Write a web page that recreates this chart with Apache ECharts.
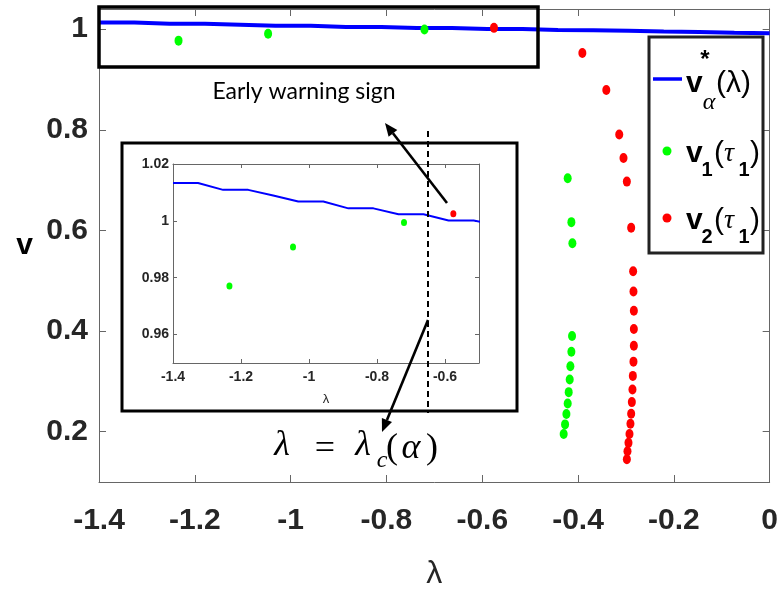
<!DOCTYPE html>
<html><head><meta charset="utf-8">
<script src="https://cdn.jsdelivr.net/npm/echarts@6/dist/echarts.min.js"></script>
<style>html,body{margin:0;padding:0;background:#fff}#c{width:781px;height:595px}</style>
</head><body><div id="c"></div>
<script>
// ---- data ----
const lineLambda = [-1.4, -1.3263, -1.2526, -1.1789, -1.1053, -1.0316, -0.9579, -0.8842, -0.8105, -0.7368, -0.6632, -0.5895, -0.5158, -0.4421, -0.3684, -0.2947, -0.2211, -0.1474, -0.0737, 0];
const vStar = [1.0133, 1.0133, 1.0109, 1.0109, 1.0089, 1.0068, 1.0068, 1.0044, 1.0044, 1.0023, 1.0023, 1.0001, 1.0001, 0.9985, 0.998, 0.997, 0.9955, 0.9945, 0.993, 0.992];
const v1Lambda = [-1.234, -1.047, -0.7206, -0.4216, -0.4139, -0.4118, -0.4125, -0.4139, -0.416, -0.4174, -0.4195, -0.4216, -0.4243, -0.4271, -0.43];
const v1Val = [0.9771, 0.9908, 0.9994, 0.7036, 0.6164, 0.5743, 0.3901, 0.359, 0.3301, 0.3036, 0.2786, 0.256, 0.235, 0.2145, 0.1954];
const v2Lambda = [-0.5755, -0.391, -0.341, -0.314, -0.3051, -0.2981, -0.2891, -0.285, -0.2843, -0.2835, -0.2835, -0.2835, -0.2843, -0.2856, -0.2864, -0.2877, -0.2891, -0.2906, -0.2926, -0.2947, -0.2968, -0.2981];
const v2Val = [1.0025, 0.9525, 0.879, 0.7907, 0.744, 0.697, 0.6053, 0.5188, 0.4786, 0.4402, 0.404, 0.3709, 0.3392, 0.3109, 0.2838, 0.2588, 0.2356, 0.2158, 0.1954, 0.1778, 0.161, 0.1451];
const mainYTicks = [0.2, 0.4, 0.6, 0.8, 1];
const insetXTicks = [-1.4, -1.2, -1, -0.8, -0.6];
const insetYTicks = [0.96, 0.98, 1, 1.02];

const pairs = (xs, ys) => xs.map((x, i) => [x, ys[i]]);
const tickFont = "'Liberation Sans', Arial, sans-serif";
const axisCol = '#666';
const labCol = '#262626';

function axisBase(extra) {
  return Object.assign({
    type: 'value',
    splitLine: { show: false },
    axisLine: { show: true, onZero: false, lineStyle: { color: axisCol, width: 1 } },
  }, extra);
}

const chart = echarts.init(document.getElementById('c'));

function T(x, y, text, font, align, va, z) {
  return { type: 'text', x: x, y: y, z: z || 12,
    style: { text: text, font: font, fill: '#000', textAlign: align || 'left', textVerticalAlign: va || 'middle' } };
}
function arrow(x1, y1, x2, y2, z) {
  const dx = x2 - x1, dy = y2 - y1, L = Math.hypot(dx, dy), ux = dx / L, uy = dy / L;
  const hl = 13, hw = 5.5;
  const bx = x2 - hl * ux, by = y2 - hl * uy;
  return [
    { type: 'line', z: z, shape: { x1: x1, y1: y1, x2: bx, y2: by }, style: { stroke: '#000', lineWidth: 2.6 } },
    { type: 'polygon', z: z, shape: { points: [[x2, y2], [bx - hw * uy, by + hw * ux], [bx + hw * uy, by - hw * ux]] }, style: { fill: '#000' } }
  ];
}

const serifI = "italic 36px 'Liberation Serif', 'DejaVu Serif', serif";
const serifR = "36px 'Liberation Serif', 'DejaVu Serif', serif";
const legV = "bold 30px 'Liberation Sans', sans-serif";
const legSub = "bold 20px 'Liberation Sans', sans-serif";
const legP = "30px 'Liberation Sans', sans-serif";
const legG = "italic 28px 'Liberation Serif', serif";

const graphics = [
  // inset background box
  { type: 'rect', z: 1, shape: { x: 122, y: 143, width: 395, height: 268 }, style: { fill: '#fff', stroke: '#000', lineWidth: 3 } },
  // highlight box at top
  { type: 'rect', z: 12, shape: { x: 99, y: 7, width: 439, height: 60 }, style: { fill: 'none', stroke: '#000', lineWidth: 3.5 } },
  // dashed critical line
  { type: 'line', z: 12, shape: { x1: 428, y1: 131, x2: 428, y2: 413 }, style: { stroke: '#000', lineWidth: 2, lineDash: [6, 4] } },
  ...arrow(447, 203, 385, 123, 12),
  ...arrow(428, 320, 382, 432, 12),
  T(304, 92, 'Early warning sign', "23px Lato, 'Noto Sans', sans-serif", 'center'),
  T(282, 446, 'λ', serifI, 'center'),
  T(325, 450, '=', serifR, 'center'),
  T(363, 446, 'λ', serifI, 'center'),
  T(382, 461, 'c', "italic 24px 'Liberation Serif', serif", 'center'),
  T(392, 449, '(', serifR, 'center'),
  T(411, 449, 'α', serifI, 'center'),
  T(432, 449, ')', serifR, 'center'),
  // legend
  { type: 'rect', z: 10, shape: { x: 649, y: 37, width: 114, height: 216 }, style: { fill: '#fff', stroke: '#222', lineWidth: 3 } },
  { type: 'line', z: 12, shape: { x1: 653, y1: 79, x2: 682, y2: 79 }, style: { stroke: '#0000ff', lineWidth: 3.5 } },
  T(686, 84, 'v', legV),
  T(705, 60, '*', "bold 24px 'Liberation Sans', sans-serif", 'center'),
  T(709, 103, 'α', "italic 24px 'Liberation Serif', serif", 'center'),
  T(716, 84, '(λ)', legP),
  { type: 'circle', z: 12, shape: { cx: 667, cy: 151, r: 4.5 }, style: { fill: '#00ff00' } },
  T(686, 154, 'v', legV),
  T(707, 170, '1', legSub, 'center'),
  T(714, 154, '(', legP),
  T(724, 154, 'τ', legG),
  T(744, 170, '1', legSub, 'center'),
  T(750, 154, ')', legP),
  { type: 'circle', z: 12, shape: { cx: 667, cy: 218, r: 4.5 }, style: { fill: '#ff0000' } },
  T(686, 221, 'v', legV),
  T(707, 237, '2', legSub, 'center'),
  T(714, 221, '(', legP),
  T(724, 221, 'τ', legG),
  T(744, 237, '1', legSub, 'center'),
  T(750, 221, ')', legP),
];

const mainLabel = { fontFamily: tickFont, fontWeight: 'bold', fontSize: 30, color: labCol };
const insetLabel = { fontFamily: tickFont, fontWeight: 'bold', fontSize: 14, color: labCol };

const option = {
  animation: false,
  backgroundColor: '#fff',
  grid: [
    { left: 99, right: 9, top: 9, bottom: 111 },
    { left: 173, top: 164, width: 306, height: 199 }
  ],
  xAxis: [
    axisBase({ gridIndex: 0, min: -1.4, max: 0, interval: 0.2, position: 'bottom',
      axisTick: { inside: true, length: 7, lineStyle: { color: axisCol } },
      axisLabel: Object.assign({ margin: 24, showMinLabel: true, showMaxLabel: true }, mainLabel),
      name: 'λ', nameLocation: 'middle', nameGap: 76,
      nameTextStyle: { fontFamily: "'Liberation Sans', sans-serif", fontSize: 32, color: labCol } }),
    axisBase({ gridIndex: 0, min: -1.4, max: 0, interval: 0.2, position: 'top',
      axisTick: { inside: true, length: 7, lineStyle: { color: axisCol } }, axisLabel: { show: false } }),
    axisBase({ gridIndex: 1, min: -1.4, max: -0.5, position: 'bottom', z: 5,
      axisTick: { inside: true, length: 4, customValues: insetXTicks, lineStyle: { color: axisCol } },
      axisLabel: Object.assign({ margin: 7, customValues: insetXTicks }, insetLabel),
      name: 'λ', nameLocation: 'middle', nameGap: 30,
      nameTextStyle: { fontFamily: "'Liberation Sans', sans-serif", fontSize: 13, color: labCol } }),
    axisBase({ gridIndex: 1, min: -1.4, max: -0.5, position: 'top', z: 5,
      axisTick: { inside: true, length: 4, customValues: insetXTicks, lineStyle: { color: axisCol } }, axisLabel: { show: false } })
  ],
  yAxis: [
    axisBase({ gridIndex: 0, min: 0.1, max: 1.04, position: 'left',
      axisTick: { inside: true, length: 7, customValues: mainYTicks, lineStyle: { color: axisCol } },
      axisLabel: Object.assign({ margin: 11, customValues: mainYTicks }, mainLabel),
      name: 'v', nameLocation: 'middle', nameRotate: 0, nameGap: 66,
      nameTextStyle: { fontFamily: "'Liberation Sans', sans-serif", fontWeight: 'bold', fontSize: 30, color: '#000', padding: [12, 0, 0, 0] } }),
    axisBase({ gridIndex: 0, min: 0.1, max: 1.04, position: 'right',
      axisTick: { inside: true, length: 7, customValues: mainYTicks, lineStyle: { color: axisCol } }, axisLabel: { show: false } }),
    axisBase({ gridIndex: 1, min: 0.95, max: 1.02, position: 'left', z: 5,
      axisTick: { inside: true, length: 4, customValues: insetYTicks, lineStyle: { color: axisCol } },
      axisLabel: Object.assign({ margin: 4, customValues: insetYTicks }, insetLabel) }),
    axisBase({ gridIndex: 1, min: 0.95, max: 1.02, position: 'right', z: 5,
      axisTick: { inside: true, length: 4, customValues: insetYTicks, lineStyle: { color: axisCol } }, axisLabel: { show: false } })
  ],
  series: [
    { name: 'v*α(λ)', type: 'line', xAxisIndex: 0, yAxisIndex: 0, data: pairs(lineLambda, vStar),
      showSymbol: false, symbol: 'none', z: 3, lineStyle: { color: '#0000ff', width: 4 }, itemStyle: { color: '#0000ff' } },
    { name: 'v1(τ1)', type: 'scatter', xAxisIndex: 0, yAxisIndex: 0, data: pairs(v1Lambda, v1Val),
      symbolSize: [8, 10], z: 4, itemStyle: { color: '#00ff00', opacity: 1 } },
    { name: 'v2(τ1)', type: 'scatter', xAxisIndex: 0, yAxisIndex: 0, data: pairs(v2Lambda, v2Val),
      symbolSize: [8, 10], z: 4, itemStyle: { color: '#ff0000', opacity: 1 } },
    { name: 'inset v*α(λ)', type: 'line', xAxisIndex: 2, yAxisIndex: 2, data: pairs(lineLambda, vStar),
      showSymbol: false, symbol: 'none', z: 6, clip: true, lineStyle: { color: '#0000ff', width: 2 } },
    { name: 'inset v1(τ1)', type: 'scatter', xAxisIndex: 2, yAxisIndex: 2, data: pairs(v1Lambda, v1Val),
      symbolSize: [6, 7], z: 7, clip: true, itemStyle: { color: '#00ff00', opacity: 1 } },
    { name: 'inset v2(τ1)', type: 'scatter', xAxisIndex: 2, yAxisIndex: 2, data: pairs(v2Lambda, v2Val),
      symbolSize: [6, 7], z: 7, clip: true, itemStyle: { color: '#ff0000', opacity: 1 } }
  ],
  graphic: graphics
};
chart.setOption(option);
</script></body></html>
